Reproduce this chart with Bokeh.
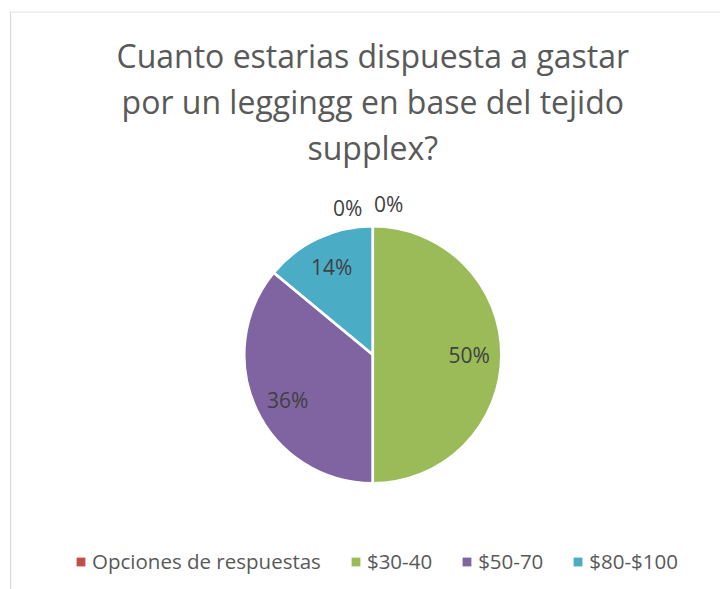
import numpy as np
from bokeh.plotting import figure
from bokeh.models import (ColumnDataSource, Legend, LegendItem, Range1d,
                          CDSView, IndexFilter, Span)
from bokeh.core.properties import value
from bokeh.embed import file_html
from bokeh.resources import INLINE

# ---- data ----
title_lines = ["Cuanto estarias dispuesta a gastar",
               "por un leggingg en base del tejido",
               "supplex?"]
categories = ["Opciones de respuestas", "$30-40", "$50-70", "$80-$100", ""]
values = [0, 50, 36, 14, 0]
colors = ["#C0504D", "#9BBB59", "#8064A2", "#4BACC6", "#F79646"]
legend_count = 4

# ---- layout / style ----
FONT = "Open Sans"
W, H = 720, 589
BL, BT = 9, 11                        # chart border offset
FW, FH = W - BL, H - BT               # frame size in px (1 data unit = 1 px)
CX, CY, R = 363.3, 234.8, 128.5       # pie centre / radius
label_r = [1.17, 0.75, 0.75, 0.75, 1.14]
label_dx = [16, 0, 2, 0, -25]
label_dy = [0, 0, -4, 0, 0]

total = float(sum(values))
frac = np.array(values) / total
cum_after = np.cumsum(frac)
cum_before = cum_after - frac
start = np.pi / 2 - 2 * np.pi * cum_before
end = np.pi / 2 - 2 * np.pi * cum_after
mid = (start + end) / 2

src = ColumnDataSource(dict(
    cat=categories, color=colors, start=start, end=end,
    lx=CX + np.array(label_r) * R * np.cos(mid) + np.array(label_dx),
    ly=CY + np.array(label_r) * R * np.sin(mid) + np.array(label_dy),
    txt=[f"{v / total * 100:.0f}%" for v in values],
))
nz = [i for i, v in enumerate(values) if v > 0]
view = CDSView(filter=IndexFilter(nz))

p = figure(width=W, height=H, output_backend="svg", toolbar_location=None,
           x_range=Range1d(0, FW), y_range=Range1d(0, FH),
           x_axis_location=None, y_axis_location=None,
           min_border_left=BL, min_border_top=BT, min_border_right=0, min_border_bottom=0)
p.grid.visible = False
p.outline_line_color = None
p.background_fill_color = "white"
p.border_fill_color = "white"

# chart border (left / top edges visible in the reference)
p.add_layout(Span(location=1, dimension="height", line_color="#D9D9D9", line_width=1.2))
p.add_layout(Span(location=FH - 0.5, dimension="width", line_color="#D9D9D9", line_width=1))

# pie slices
p.wedge(x=CX, y=CY, radius=R, start_angle="start", end_angle="end",
        direction="clock", fill_color="color", line_color=None,
        source=src, view=view)
# white separators
p.wedge(x=CX, y=CY, radius=R, start_angle="start", end_angle="end",
        direction="clock", fill_color=None, line_color="white",
        line_width=2.5, source=src, view=view)
# legend swatch renderer (zero radius, draws nothing on the plot)
lr = p.wedge(x=CX, y=CY, radius=0, start_angle="start", end_angle="start",
             direction="clock", fill_color="color", line_color=None, source=src)

p.text(x="lx", y="ly", text="txt", source=src, text_align="center",
       text_baseline="middle", text_font=value(FONT), text_font_size="21px",
       text_color="#404040")

# title
tsrc = ColumnDataSource(dict(
    x=[CX] * len(title_lines),
    y=[534 - 46 * i for i in range(len(title_lines))],
    t=title_lines))
p.text(x="x", y="y", text="t", source=tsrc, text_align="center",
       text_baseline="alphabetic", text_font=value(FONT), text_font_size="32px",
       text_color="#595959")

items = [LegendItem(label=categories[i], renderers=[lr], index=i) for i in range(legend_count)]
legend = Legend(items=items, orientation="horizontal", location=(66, 14),
                glyph_width=11, glyph_height=11, label_standoff=6, spacing=29,
                padding=0, margin=0, border_line_color=None, background_fill_alpha=0,
                label_text_font=FONT, label_text_font_size="20.5px",
                label_text_color="#595959")
p.add_layout(legend)

open("out.html", "w").write(file_html(p, INLINE))
